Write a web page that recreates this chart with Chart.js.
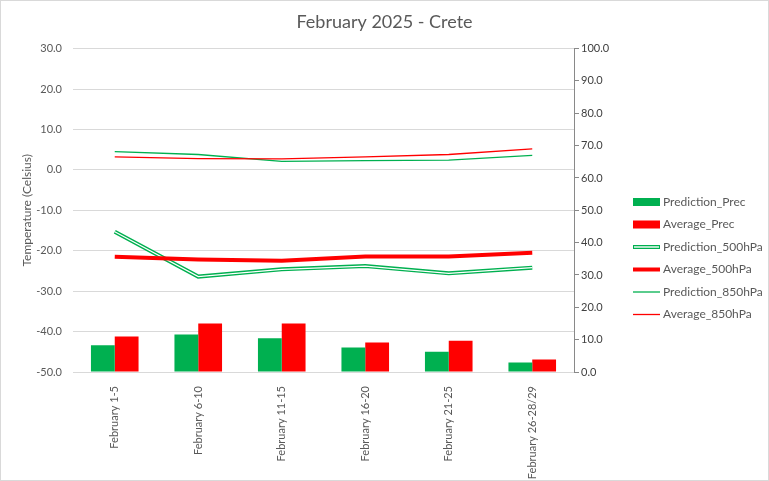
<!DOCTYPE html>
<html>
<head>
<meta charset="utf-8">
<script src="https://cdn.jsdelivr.net/npm/chart.js@4"></script>
<style>
html,body{margin:0;padding:0;background:#fff;}
#wrap{width:769px;height:481px;position:relative;}
</style>
</head>
<body>
<div id="wrap"><canvas id="c" width="769" height="481"></canvas></div>
<script>
const categories = ["February 1-5","February 6-10","February 11-15","February 16-20","February 21-25","February 26-28/29"];
const predictionPrec = [8.3, 11.6, 10.4, 7.6, 6.3, 2.9];
const averagePrec = [11.0, 15.0, 15.0, 9.1, 9.7, 3.9];
const prediction500 = [-15.3, -26.4, -24.6, -23.8, -25.6, -24.2];
const average500 = [-21.5, -22.2, -22.5, -21.4, -21.4, -20.5];
const prediction850 = [4.5, 3.8, 2.1, 2.3, 2.4, 3.6];
const average850 = [3.2, 2.8, 2.7, 3.2, 3.8, 5.2];
const leftTicks = [30, 20, 10, 0, -10, -20, -30, -40, -50];
const rightTicks = [100, 90, 80, 70, 60, 50, 40, 30, 20, 10, 0];

const GREEN = '#00B050', RED = '#FF0000', TXT = '#595959', GRID = '#d9d9d9';
const FONT = 'Lato, "Liberation Sans", sans-serif';

const legendPlugin = {
  id: 'customLegend',
  afterDraw(chart) {
    const ctx = chart.ctx;
    const items = chart.data.datasets.filter(d => d.legendKind).sort((a, b) => a.legendOrder - b.legendOrder);
    const x0 = 633, w = 27, tx = 663;
    let y = 202;
    ctx.save();
    ctx.font = '12px ' + FONT;
    ctx.textBaseline = 'middle';
    ctx.fillStyle = TXT;
    items.forEach(d => {
      if (d.legendKind === 'box') {
        ctx.fillStyle = d.backgroundColor;
        ctx.fillRect(x0, y - 4, w, 8);
      } else if (d.legendKind === 'double') {
        ctx.strokeStyle = GREEN; ctx.lineWidth = 4;
        ctx.beginPath(); ctx.moveTo(x0, y); ctx.lineTo(x0 + w, y); ctx.stroke();
        ctx.strokeStyle = '#ffffff'; ctx.lineWidth = 1.4;
        ctx.beginPath(); ctx.moveTo(x0 + 1, y); ctx.lineTo(x0 + w - 1, y); ctx.stroke();
      } else {
        ctx.strokeStyle = d.borderColor; ctx.lineWidth = d.borderWidth;
        ctx.beginPath(); ctx.moveTo(x0, y); ctx.lineTo(x0 + w, y); ctx.stroke();
      }
      ctx.fillStyle = TXT;
      ctx.fillText(d.label, tx, y);
      y += 22.5;
    });
    ctx.strokeStyle = GRID; ctx.lineWidth = 1;
    ctx.strokeRect(0.5, 0.5, chart.width - 1, chart.height - 1);
    ctx.restore();
  }
};

new Chart(document.getElementById('c'), {
  data: {
    labels: categories,
    datasets: [
      { type: 'line', label: 'Average_850hPa', data: average850, borderColor: RED, borderWidth: 1.3, pointRadius: 0, yAxisID: 'y', order: 1, legendKind: 'line', legendOrder: 6 },
      { type: 'line', label: 'Prediction_850hPa', data: prediction850, borderColor: GREEN, borderWidth: 1.3, pointRadius: 0, yAxisID: 'y', order: 2, legendKind: 'line', legendOrder: 5 },
      { type: 'line', label: 'Average_500hPa', data: average500, borderColor: RED, borderWidth: 4, pointRadius: 0, yAxisID: 'y', order: 3, legendKind: 'line', legendOrder: 4 },
      { type: 'line', label: 'Prediction_500hPa_inner', data: prediction500, borderColor: '#ffffff', borderWidth: 1.2, pointRadius: 0, yAxisID: 'y', order: 4 },
      { type: 'line', label: 'Prediction_500hPa', data: prediction500, borderColor: GREEN, borderWidth: 4, pointRadius: 0, yAxisID: 'y', order: 5, legendKind: 'double', legendOrder: 3 },
      { type: 'bar', label: 'Average_Prec', data: averagePrec, backgroundColor: RED, yAxisID: 'y1', order: 7, barPercentage: 1, categoryPercentage: 0.57, legendKind: 'box', legendOrder: 2 },
      { type: 'bar', label: 'Prediction_Prec', data: predictionPrec, backgroundColor: GREEN, yAxisID: 'y1', order: 6, barPercentage: 1, categoryPercentage: 0.57, legendKind: 'box', legendOrder: 1 }
    ]
  },
  options: {
    responsive: false,
    animation: false,
    layout: { padding: { top: 0, left: 0, right: 0, bottom: 0 } },
    plugins: {
      legend: { display: false },
      tooltip: { enabled: false },
      title: {
        display: true, text: 'February 2025 - Crete', color: TXT,
        font: { family: FONT, size: 18, weight: 'normal' },
        padding: { top: 11, bottom: 16 }
      }
    },
    scales: {
      x: {
        grid: { display: false },
        border: { display: false },
        ticks: { color: TXT, font: { family: FONT, size: 11 }, maxRotation: 90, minRotation: 90, padding: 6 },
        afterFit(s) { s.height = 481 - 372; }
      },
      y: {
        position: 'left', min: -50, max: 30,
        afterBuildTicks(s) { s.ticks = leftTicks.map(v => ({ value: v })); },
        grid: { color: GRID, drawTicks: false, lineWidth: 1 },
        border: { display: false },
        ticks: { color: TXT, font: { family: FONT, size: 11 }, padding: 11, callback: v => Number(v).toFixed(1) },
        title: { display: true, text: 'Temperature (Celsius)', color: TXT, font: { family: FONT, size: 12 }, padding: { top: 20, bottom: 6 } },
        afterFit(s) { s.width = 73; }
      },
      y1: {
        position: 'right', min: 0, max: 100,
        afterBuildTicks(s) { s.ticks = rightTicks.map(v => ({ value: v })); },
        grid: { drawOnChartArea: false, color: '#898989', tickLength: 5 },
        border: { display: true, color: '#898989' },
        ticks: { color: '#404040', font: { family: FONT, size: 11 }, padding: 2, callback: v => Number(v).toFixed(1) },
        afterFit(s) { s.width = 769 - 574; }
      }
    }
  },
  plugins: [legendPlugin]
});
</script>
</body>
</html>
